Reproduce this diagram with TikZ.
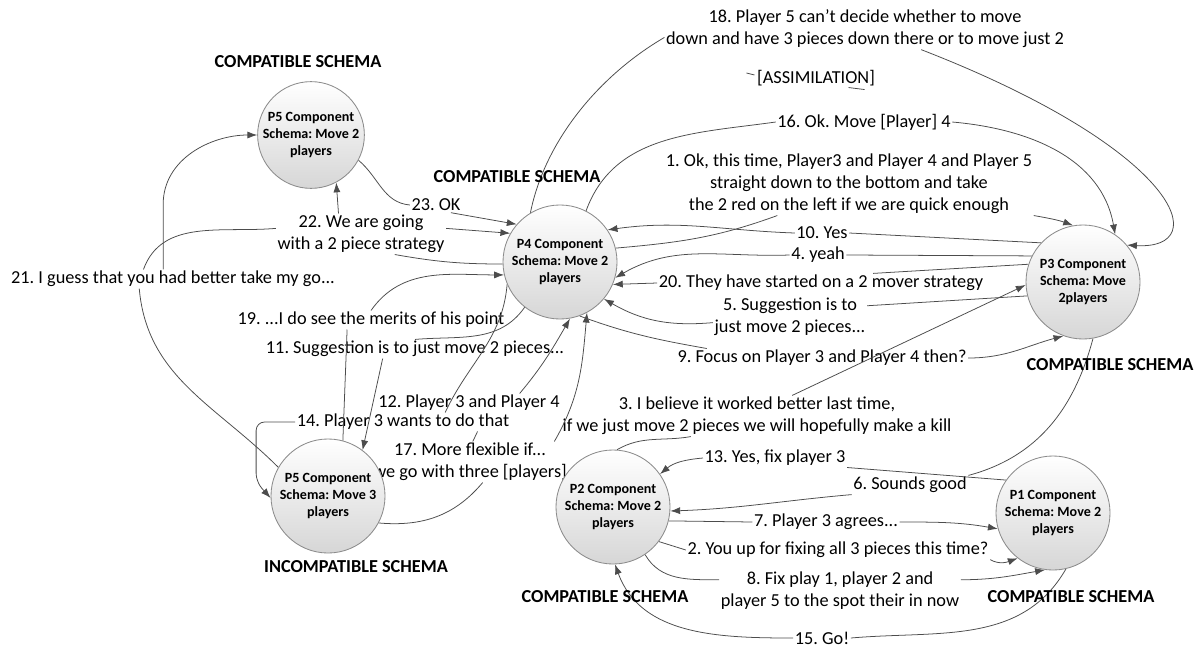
\documentclass[tikz,border=0pt]{standalone}
\usepackage{fontspec}
\setmainfont{Carlito}
\usetikzlibrary{arrows.meta,backgrounds}
\frenchspacing

\tikzset{
  schema/.style={circle, draw=black!45, line width=0.6pt, top color=white, bottom color=black!16,
    minimum size=2.85cm, inner sep=0pt, align=center, font=\fontsize{10}{12.4}\selectfont\bfseries},
  msg/.style={align=center, inner sep=1pt, font=\fontsize{13}{15.6}\selectfont},
  tag/.style={font=\fontsize{13}{15.6}\selectfont\bfseries},
  link/.style={draw=black!70, line width=0.55pt},
  arr/.style={link, -{Latex[length=7pt,width=5pt]}},
}

\begin{document}
\begin{tikzpicture}[x=0.025cm, y=-0.025cm]
    \useasboundingbox (0,0) rectangle (1201,651);

    % Schema circles
    \node[schema, minimum size=2.65cm] (p5a) at (311,135) {P5 Component\\Schema: Move 2\\players};
    \node[schema] (p4) at (560,262) {P4 Component\\Schema: Move 2\\players};
    \node[schema] (p3) at (1083,282) {P3 Component\\Schema: Move\\2players};
    \node[schema] (p5b) at (328,496) {P5 Component\\Schema: Move 3\\players};
    \node[schema] (p2) at (613,507) {P2 Component\\Schema: Move 2\\players};
    \node[schema] (p1) at (1053,513) {P1 Component\\Schema: Move 2\\players};

    % Schema headers
    \node[tag] (h5a) at (298,62) {COMPATIBLE SCHEMA};
    \node[tag] (h4) at (517,177) {COMPATIBLE SCHEMA};
    \node[tag] (h3) at (1110,365) {COMPATIBLE SCHEMA};
    \node[tag] (h5b) at (356,567) {INCOMPATIBLE SCHEMA};
    \node[tag] (h2) at (605,597) {COMPATIBLE SCHEMA};
    \node[tag] (h1) at (1071,597) {COMPATIBLE SCHEMA};

    \begin{scope}[on background layer]
    % Messages
    \node[msg] (t18) at (865,29) {18. Player 5 can’t decide whether to move\\down and have 3 pieces down there or to move just 2};
    \node[msg] (assim) at (816,78) {[ASSIMILATION]};
    \node[msg] (t16) at (864,122) {16. Ok. Move [Player] 4};
    \node[msg] (t1) at (849,184) {1. Ok, this time, Player3 and Player 4 and Player 5\\straight down to the bottom and take\\the 2 red on the left if we are quick enough};
    \node[msg] (t10) at (822,233) {10. Yes};
    \node[msg] (t4) at (818,255) {4. yeah};
    \node[msg] (t20) at (821,283) {20. They have started on a 2 mover strategy};
    \node[msg] (t5) at (790,317) {5. Suggestion is to\\just move 2 pieces...};
    \node[msg] (t9) at (822,358) {9. Focus on Player 3 and Player 4 then?};
    \node[msg] (t3) at (757,416) {3. I believe it worked better last time,\\if we just move 2 pieces we will hopefully make a kill};
    \node[msg] (t13) at (775,458) {13. Yes, fix player 3};
    \node[msg] (t6) at (910,485) {6. Sounds good};
    \node[msg] (t7) at (826,522) {7. Player 3 agrees...};
    \node[msg] (t2) at (838,550) {2. You up for fixing all 3 pieces this time?};
    \node[msg] (t8) at (840,591) {8. Fix play 1, player 2 and\\player 5 to the spot their in now};
    \node[msg] (t15) at (822,638) {15. Go!};
    \node[msg] (t17) at (470,462) {17. More flexible if...\\we go with three [players]};
    \node[msg] (t12) at (469,403) {12. Player 3 and Player 4};
    \node[msg] (t14) at (403,422) {14. Player 3 wants to do that};
    \node[msg] (t11) at (415,349) {11. Suggestion is to just move 2 pieces...};
    \node[msg] (t19) at (371,320) {19. ...I do see the merits of his point};
    \node[msg] (t21) at (173,279) {21. I guess that you had better take my go...};
    \node[msg] (t22) at (361,234) {22. We are going\\with a 2 piece strategy};
    \node[msg] (t23) at (436,205) {23. OK};

    % -- P4 / P3 exchanges
    \draw[link] (p4.121) .. controls (545,140) and (600,75) .. ([yshift=-6pt]t18.west);
    \draw[arr] ([xshift=40pt]t18.south) .. controls (1180,150) and (1215,250) .. (p3.40);
    \draw[link] (assim.west) ++(-9,-5) -- ++(8,2);
    \draw[link] (assim.south east) ++(-28,0) -- ++(16,2);
    \draw[link] (p4.63) to[out=70,in=188] (t16.west);
    \draw[arr] (t16.east) to[out=-5,in=100] (p3.56);
    \draw[link] (p4.14) to[out=5,in=200] ([xshift=-51pt]t1.south);
    \draw[arr] (t1.south east) to[out=-10,in=160] (p3.100);
    \draw[link] (p3.137) -- (t10.east);
    \draw[arr] (t10.west) to[out=178,in=8] (p4.34);
    \draw[link] (p3.153) -- (t4.east);
    \draw[arr] (t4.west) to[out=182,in=30] (p4.-16);
    \draw[link] (p3.162) -- ([xshift=37pt]t20.north);
    \draw[arr] (t20.west) -- (p4.-23);
    \draw[link] (p3.194) -- ([yshift=8pt]t5.east);
    \draw[arr] ([yshift=-4pt]t5.west) to[out=185,in=-30] (p4.-40);
    \draw[link] (p4.-70) to[out=-20,in=170] ([xshift=22pt]t9.north west);
    \draw[arr] (t9.east) to[out=0,in=195] (p3.-110);

    % -- P2 / P1 exchanges
    \draw[link] (p2.86) to[out=30,in=190] ([xshift=-47pt]t3.south);
    \draw[arr] ([xshift=25pt]t3.north) -- (p3.183);
    \draw[link] (p3.-80) to[out=-105,in=15] (t6.north east);
    \draw[arr] (t6.south west) to[out=185,in=2] (p2.-4);
    \draw[link] (p1.145) -- (t13.south east);
    \draw[arr] (t13.west) to[out=185,in=40] (p2.35);
    \draw[link] (p2.-14) -- (t7.west);
    \draw[arr] (t7.east) to[out=0,in=170] (p1.196);
    \draw[link] (p2.-37) -- (t2.west);
    \draw[arr] (t2.south east) to[out=-30,in=200] (p1.232);
    \draw[link] (p2.-56) to[out=-60,in=180] ([yshift=8pt]t8.west);
    \draw[arr] ([yshift=8pt]t8.east) to[out=0,in=190] (p1.262);
    \draw[link] (p1.-77) to[out=-120,in=5] (t15.east);
    \draw[arr] (t15.west) to[out=180,in=-70] (p2.-88);

    % -- P5 (move 3) exchanges
    \draw[link] (p5b.-28) to[out=-5,in=-130] ([xshift=9pt]t17.south);
    \draw[arr] ([xshift=-10pt]t17.north east) to[out=60,in=-95] (p4.-62);
    \draw[link] ([xshift=2pt]t17.north) -- ([xshift=53pt]t14.south);
    \draw[arr] ([xshift=36pt]t12.north) to[out=50,in=-120] (p4.-80);
    \draw[link] (p4.203) to[out=-95,in=65] ([xshift=30pt]t14.north);
    \draw[arr, rounded corners=6pt] (t14.west) -- ++(-39,0) -- ++(0,60) -- (p5b.182);
    \draw[link] (p4.-128) to[out=-125,in=5] (t11.north);
    \draw[arr] ([xshift=-23pt]t11.south) -- (p5b.53);
    \draw[link] (p5b.75) -- ([xshift=-17pt]t19.south);
    \draw[arr] (t19.north) to[out=55,in=180] (p4.193);

    % -- P5 (move 2) exchanges
    \draw[link] (p5a.-28) to[out=-40,in=175] (t23.west);
    \draw[arr] ([xshift=-8pt]t23.south east) -- (p4.139);
    \draw[arr] ([yshift=4pt]t22.east) -- (p4.150);
    \draw[link] ([xshift=24pt]t22.south) to[out=-10,in=180] (p4.182);
    \draw[arr] ([xshift=-16pt]t22.north) -- (p5a.-62);
    \draw[link] ([yshift=4pt]t22.west) to[out=185,in=70] ([xshift=-21pt]t21.north);
    \draw[link] ([xshift=-24pt]t21.south) to[out=-85,in=135] (p5b.150);
    \draw[arr] ([xshift=-7pt]t21.north) -- ++(0,-65) to[out=90,in=180] (p5a.180);
    \end{scope}
\end{tikzpicture}
\end{document}
